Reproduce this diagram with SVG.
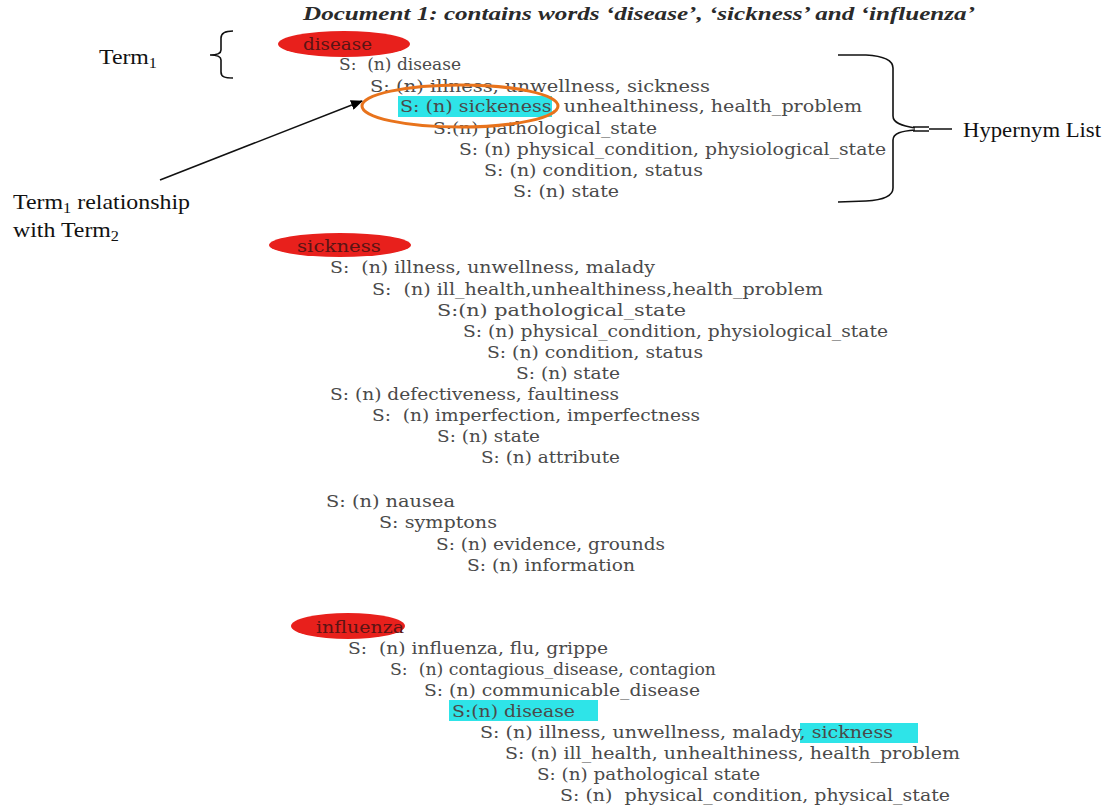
<svg xmlns="http://www.w3.org/2000/svg" width="1115" height="810" viewBox="0 0 1115 810">
<style>
.t{font-family:"DejaVu Serif","Liberation Serif",serif;font-size:17px;fill:#4a4a4a;white-space:pre}
.k{font-family:"DejaVu Serif","Liberation Serif",serif;font-size:17px;fill:#5a1414}
.lbl{font-family:"Liberation Serif","Times New Roman",serif;font-size:22px;fill:#111}
.title{font-family:"Liberation Serif","Times New Roman",serif;font-size:18px;font-weight:bold;font-style:italic;fill:#2a2a2a}
.term{fill:#e8201c}
.hl{fill:#2ee4e8}
.ring{fill:none;stroke:#e8731c;stroke-width:3}
.br{fill:none;stroke:#111;stroke-width:1.6}
.arrow{stroke:#111;stroke-width:1.6;fill:none}
</style>
<defs>
<marker id="ah" markerWidth="12" markerHeight="10" refX="11" refY="5" orient="auto" markerUnits="userSpaceOnUse">
<path d="M0,0 L12,5 L0,10 Z" fill="#000"/>
</marker>
</defs>
<rect width="1115" height="810" fill="#fff"/>

<g id="title">
<text class="title" x="303" y="20" textLength="672" lengthAdjust="spacingAndGlyphs">Document 1: contains words ‘disease’, ‘sickness’ and ‘influenza’</text>
</g>

<g id="label-term1">
<text class="lbl" x="99" y="64" textLength="58" lengthAdjust="spacingAndGlyphs">Term<tspan font-size="15" dy="4">1</tspan></text>
<path class="br" d="M233,31 C225,31 221,33 221,38 L221,50 C221,53 217,55 210,55 C217,55 221,57 221,60 L221,72 C221,77 225,78 233,78"/>
</g>

<g id="label-relationship">
<text class="lbl" x="13" y="209" textLength="177" lengthAdjust="spacingAndGlyphs">Term<tspan font-size="15" dy="4">1</tspan><tspan dy="-4"> relationship</tspan></text>
<text class="lbl" x="13" y="237" textLength="106" lengthAdjust="spacingAndGlyphs">with Term<tspan font-size="15" dy="4">2</tspan></text>
</g>

<g id="label-hypernym">
<path class="br" d="M838,55 L866,55 C884,56 893,60 893,68 L893,116 C893,123 902,126 915,128"/>
<path class="br" d="M838,202 L866,201 C884,200 893,196 893,188 L893,140 C893,133 902,131 915,130"/>
<path class="br" d="M913,127 L929,127 M913,131 L929,131 M929,129 L952,129"/>
<text class="lbl" x="963" y="137" textLength="138" lengthAdjust="spacingAndGlyphs">Hypernym List</text>
</g>

<g id="term-disease">
<ellipse class="term" cx="344" cy="44" rx="66" ry="13"/>
<text class="k" x="303" y="50" textLength="69" lengthAdjust="spacingAndGlyphs">disease</text>
<rect class="hl" x="398" y="96" width="154" height="21"/>
<text class="t" x="339" y="70" textLength="122" lengthAdjust="spacingAndGlyphs">S:  (n) disease</text>
<text class="t" x="370" y="92" textLength="340" lengthAdjust="spacingAndGlyphs">S: (n) illness, unwellness, sickness</text>
<text class="t" x="400" y="112" textLength="462" lengthAdjust="spacingAndGlyphs">S: (n) sickeness, unhealthiness, health_problem</text>
<text class="t" x="433" y="134" textLength="224" lengthAdjust="spacingAndGlyphs">S:(n) pathological_state</text>
<text class="t" x="459" y="155" textLength="427" lengthAdjust="spacingAndGlyphs">S: (n) physical_condition, physiological_state</text>
<text class="t" x="484" y="176" textLength="219" lengthAdjust="spacingAndGlyphs">S: (n) condition, status</text>
<text class="t" x="513" y="197" textLength="106" lengthAdjust="spacingAndGlyphs">S: (n) state</text>
<ellipse class="ring" cx="460" cy="106" rx="98" ry="21"/>
</g>

<g id="term-sickness">
<ellipse class="term" cx="340" cy="245" rx="71" ry="12"/>
<text class="k" x="297" y="252" textLength="84" lengthAdjust="spacingAndGlyphs">sickness</text>
<text class="t" x="330" y="273" textLength="325" lengthAdjust="spacingAndGlyphs">S:  (n) illness, unwellness, malady</text>
<text class="t" x="372" y="295" textLength="451" lengthAdjust="spacingAndGlyphs">S:  (n) ill_health,unhealthiness,health_problem</text>
<text class="t" x="437" y="316" textLength="249" lengthAdjust="spacingAndGlyphs">S:(n) pathological_state</text>
<text class="t" x="463" y="337" textLength="425" lengthAdjust="spacingAndGlyphs">S: (n) physical_condition, physiological_state</text>
<text class="t" x="487" y="358" textLength="216" lengthAdjust="spacingAndGlyphs">S: (n) condition, status</text>
<text class="t" x="516" y="379" textLength="104" lengthAdjust="spacingAndGlyphs">S: (n) state</text>
<text class="t" x="330" y="400" textLength="289" lengthAdjust="spacingAndGlyphs">S: (n) defectiveness, faultiness</text>
<text class="t" x="372" y="421" textLength="328" lengthAdjust="spacingAndGlyphs">S:  (n) imperfection, imperfectness</text>
<text class="t" x="437" y="442" textLength="103" lengthAdjust="spacingAndGlyphs">S: (n) state</text>
<text class="t" x="481" y="463" textLength="139" lengthAdjust="spacingAndGlyphs">S: (n) attribute</text>
<text class="t" x="326" y="507" textLength="129" lengthAdjust="spacingAndGlyphs">S: (n) nausea</text>
<text class="t" x="379" y="528" textLength="118" lengthAdjust="spacingAndGlyphs">S: symptons</text>
<text class="t" x="436" y="550" textLength="229" lengthAdjust="spacingAndGlyphs">S: (n) evidence, grounds</text>
<text class="t" x="467" y="571" textLength="168" lengthAdjust="spacingAndGlyphs">S: (n) information</text>
</g>

<g id="term-influenza">
<ellipse class="term" cx="348" cy="626" rx="57" ry="13"/>
<text class="k" x="316" y="633" textLength="88" lengthAdjust="spacingAndGlyphs">influenza</text>
<rect class="hl" x="449" y="700" width="149" height="21"/>
<rect class="hl" x="800" y="723" width="118" height="20"/>
<text class="t" x="348" y="654" textLength="260" lengthAdjust="spacingAndGlyphs">S:  (n) influenza, flu, grippe</text>
<text class="t" x="390" y="675" textLength="326" lengthAdjust="spacingAndGlyphs">S:  (n) contagious_disease, contagion</text>
<text class="t" x="424" y="696" textLength="276" lengthAdjust="spacingAndGlyphs">S: (n) communicable_disease</text>
<text class="t" x="452" y="717" textLength="123" lengthAdjust="spacingAndGlyphs">S:(n) disease</text>
<text class="t" x="480" y="738" textLength="413" lengthAdjust="spacingAndGlyphs">S: (n) illness, unwellness, malady, sickness</text>
<text class="t" x="505" y="759" textLength="455" lengthAdjust="spacingAndGlyphs">S: (n) ill_health, unhealthiness, health_problem</text>
<text class="t" x="537" y="780" textLength="223" lengthAdjust="spacingAndGlyphs">S: (n) pathological state</text>
<text class="t" x="560" y="801" textLength="390" lengthAdjust="spacingAndGlyphs">S: (n)  physical_condition, physical_state</text>
</g>

<g id="connectors">
<line class="arrow" x1="160" y1="180" x2="362" y2="101" marker-end="url(#ah)"/>
</g>
</svg>
